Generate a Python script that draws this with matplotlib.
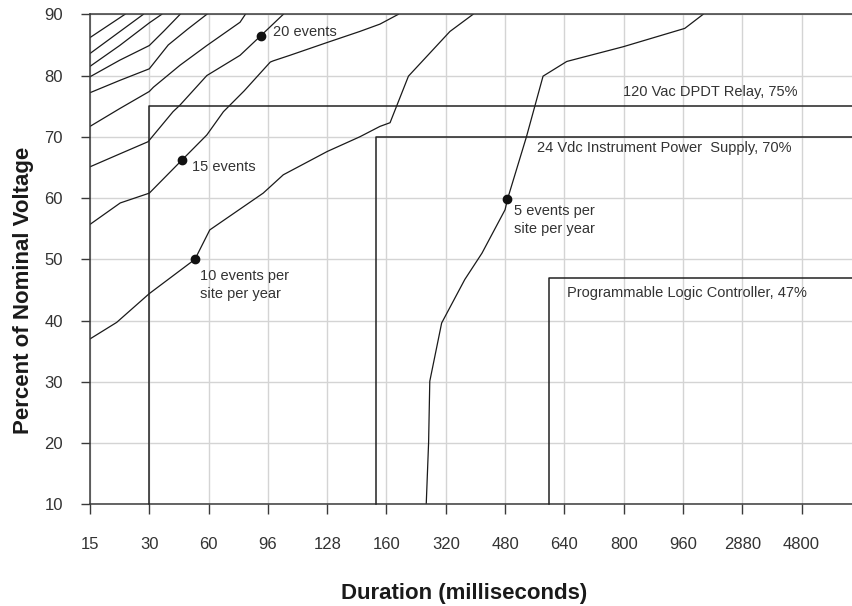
import matplotlib
matplotlib.use("Agg")
import matplotlib.pyplot as plt

plt.rcParams['font.family'] = ['Liberation Sans', 'DejaVu Sans']

# ---- data ----
durations = ["15", "30", "60", "96", "128", "160", "320", "480", "640", "800", "960", "2880", "4800"]
y_ticks = [10, 20, 30, 40, 50, 60, 70, 80, 90]

# contour lines (x in category-index units, y in % of nominal voltage)
c1_x = [0, 0.59]
c1_y = [86.2, 90]
c2_x = [0, 0.90]
c2_y = [83.6, 90]
c3_x = [0, 0.5, 1.0, 1.21]
c3_y = [81.5, 84.9, 88.6, 90]
c4_x = [0, 0.5, 1.0, 1.25, 1.52]
c4_y = [79.8, 82.5, 84.9, 87.3, 90]
c5_x = [0, 0.5, 1.0, 1.32, 1.65, 1.97]
c5_y = [77.2, 79.2, 81.1, 85.0, 87.6, 90]
c6_x = [0, 0.5, 1.0, 1.07, 1.52, 1.97, 2.53, 2.62]
c6_y = [71.7, 74.6, 77.4, 78.1, 81.7, 84.9, 88.7, 90]
ev20_x = [0, 0.5, 0.98, 1.40, 1.52, 1.97, 2.53, 2.88, 3.26]
ev20_y = [65.1, 67.2, 69.2, 74.1, 75.2, 80.0, 83.3, 86.5, 90]
ev15_x = [0, 0.51, 1.0, 1.55, 1.97, 2.25, 2.6, 3.04, 3.09, 3.37, 4.0, 4.55, 4.89, 5.2]
ev15_y = [55.7, 59.2, 60.8, 66.2, 70.3, 74.1, 77.5, 82.2, 82.4, 83.3, 85.4, 87.2, 88.4, 90]
ev10_x = [0, 0.45, 1.0, 1.77, 2.02, 2.92, 3.26, 4.0, 4.55, 4.89, 5.06, 5.37, 6.07, 6.46]
ev10_y = [37.0, 39.7, 44.4, 50.0, 54.8, 60.8, 63.8, 67.6, 70.0, 71.7, 72.3, 79.9, 87.2, 90]
ev5_x = [5.67, 5.71, 5.73, 5.93, 6.32, 6.61, 7.0, 7.04, 7.36, 7.64, 8.04, 8.99, 10.03, 10.34]
ev5_y = [10, 20.1, 30.1, 39.6, 46.7, 51.0, 58.1, 59.8, 70.0, 79.9, 82.3, 84.7, 87.7, 90]

# marked points on contours
dot_x = [2.88, 1.55, 1.77, 7.04]
dot_y = [86.5, 66.2, 50.1, 59.8]
dot_labels = ["20 events", "15 events", "10 events per\nsite per year", "5 events per\nsite per year"]
dot_label_x = [3.08, 1.715, 1.855, 7.15]
dot_label_y = [87.06, 65.0, 45.85, 56.4]

# equipment ride-through thresholds
equip_names = ["120 Vac DPDT Relay, 75%", "24 Vdc Instrument Power  Supply, 70%",
               "Programmable Logic Controller, 47%"]
equip_start = [1.0, 4.83, 7.74]
equip_level = [75, 70, 47]
equip_label_x = [8.99, 7.53, 8.05]
equip_label_y = [77.28, 68.14, 44.5]

# ---- figure ----
fig = plt.figure(figsize=(8.52, 6.06), dpi=100)
ax = fig.add_axes([90 / 852, 1 - 504.3 / 606, 1 - 90 / 852, (504.3 - 14.3) / 606])

XMAX = 12.85
ax.set_xlim(0, XMAX)
ax.set_ylim(10, 90)

ax.set_xticks(range(len(durations)))
ax.set_xticklabels(durations)
ax.set_yticks(y_ticks)

ax.grid(True, color="#d4d4d4", linewidth=1.0)
ax.set_axisbelow(True)

for s in ["left", "bottom", "top"]:
    ax.spines[s].set_color("#3a3a3a")
    ax.spines[s].set_linewidth(1.1)
ax.spines["right"].set_visible(False)

ax.tick_params(axis="x", direction="out", length=7.2, width=1.0, color="#3a3a3a",
               pad=16.5, labelsize=12, labelcolor="#333333")
ax.tick_params(axis="y", direction="out", length=6.5, width=1.0, color="#3a3a3a",
               pad=13, labelsize=12, labelcolor="#333333")

line_kw = dict(color="#1a1a1a", linewidth=0.9, solid_joinstyle="round", clip_on=True)
for xs, ys in [(c1_x, c1_y), (c2_x, c2_y), (c3_x, c3_y), (c4_x, c4_y), (c5_x, c5_y),
               (c6_x, c6_y), (ev20_x, ev20_y), (ev15_x, ev15_y), (ev10_x, ev10_y),
               (ev5_x, ev5_y)]:
    ax.plot(xs, ys, **line_kw)

ax.plot(dot_x, dot_y, "o", color="#111111", markersize=6, zorder=5)

for lab, lx, ly in zip(dot_labels, dot_label_x, dot_label_y):
    ax.text(lx, ly, lab, fontsize=10.5, color="#333333", ha="left", va="center",
            linespacing=1.33)

# threshold boxes
for name, x0, lvl in zip(equip_names, equip_start, equip_level):
    ax.plot([x0, x0, XMAX], [10, lvl, lvl], color="#222222", linewidth=1.1,
            clip_on=False, zorder=3)

for name, lx, ly in zip(equip_names, equip_label_x, equip_label_y):
    ax.text(lx, ly, name, fontsize=10.5, color="#333333", va="center", ha="left")

ax.set_xlabel("Duration (milliseconds)", fontsize=16, fontweight="bold", color="#1a1a1a")
ax.xaxis.set_label_coords((464 - 90) / (852 - 90), -(593 - 504.3) / 490)
ax.set_ylabel("Percent of Nominal Voltage", fontsize=16, fontweight="bold", color="#1a1a1a")
ax.yaxis.set_label_coords(-(90 - 24) / 762, (504.3 - 290) / 490)
ax.xaxis.label.set_va("center")
ax.yaxis.label.set_va("center")

fig.savefig("out.png", dpi=100)
